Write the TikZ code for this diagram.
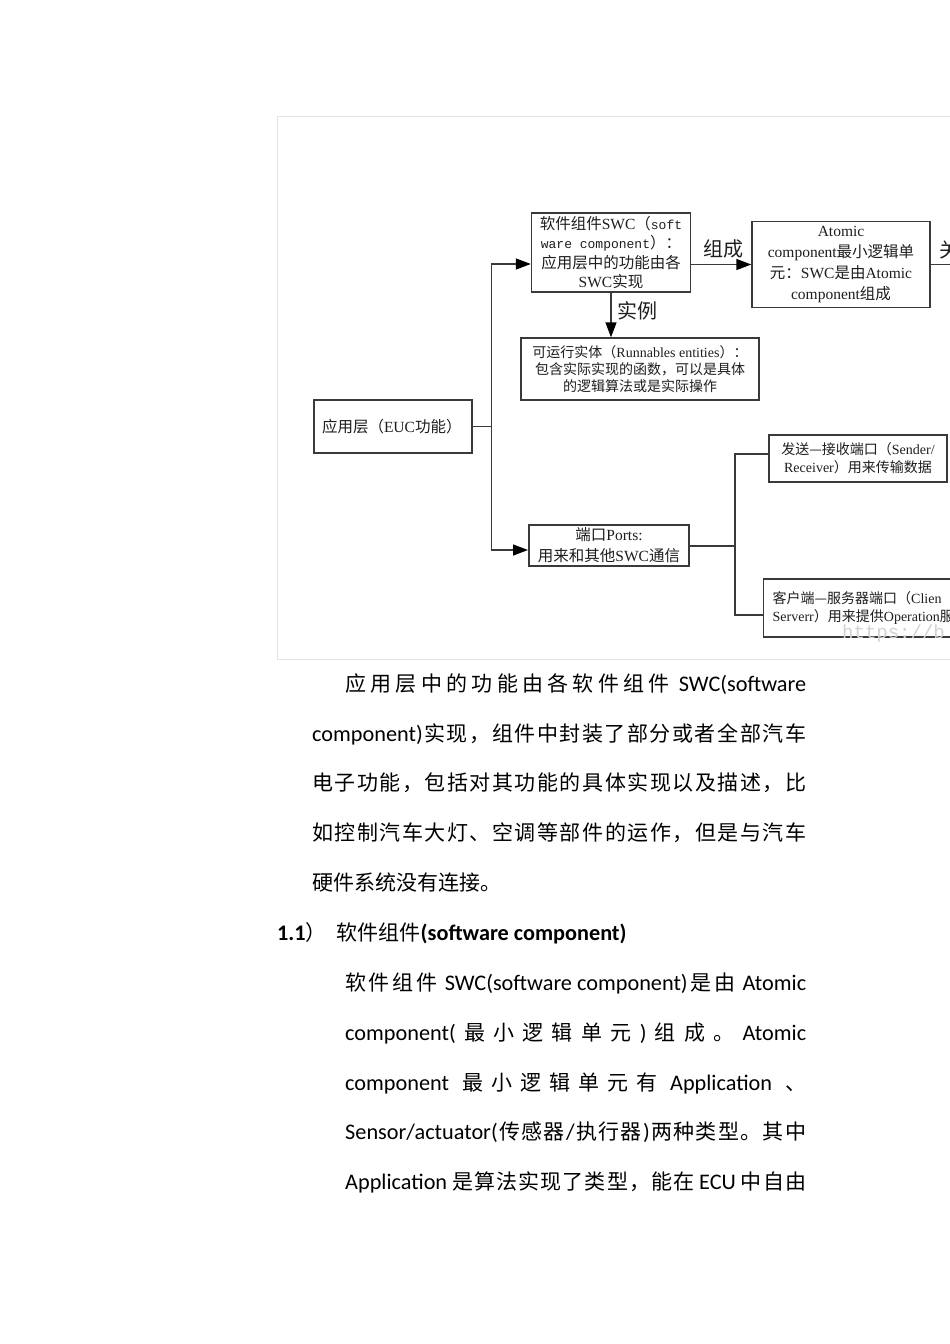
\documentclass[tikz,border=0pt]{standalone}
\usepackage{fontspec}
\usetikzlibrary{arrows.meta,calc}
\newfontfamily\cjkfont{Noto Sans CJK SC}
\newfontfamily\bodylatin[Scale=1.06]{Carlito}
\newfontfamily\diaglatin{Liberation Serif}
\newfontfamily\diagmono{Liberation Mono}
\def\curlatin{\bodylatin}
\def\latinsw{\curlatin}
\def\cjkglue{\hskip0pt plus1fil\relax}
\XeTeXinterchartokenstate=1
\newXeTeXintercharclass\CJKc
\newcount\ccnt
\def\setcls#1#2{\ccnt=#1 \loop\XeTeXcharclass\ccnt=\CJKc \ifnum\ccnt<#2 \advance\ccnt by 1 \repeat}
\setcls{"4E00}{"9FFF}
\setcls{"3000}{"303F}
\setcls{"FF00}{"FFEF}
\XeTeXcharclass"2014=\CJKc
\XeTeXinterchartoks\CJKc\CJKc={\cjkglue}
\XeTeXinterchartoks 0 \CJKc={\cjkglue\cjkfont}
\XeTeXinterchartoks\CJKc 0 ={\latinsw\cjkglue}
\XeTeXinterchartoks 4095 \CJKc={\cjkfont}
\XeTeXinterchartoks 4095 0 ={\latinsw}
\newcommand\dfnt[2]{\let\curlatin\diaglatin\let\cjkglue\relax\cjkfont\fontsize{#1}{#2}\selectfont}
\newcommand\bfnt{\cjkfont\fontsize{21}{25}\selectfont}
\newcommand\mono[1]{{\let\curlatin\diagmono\diagmono\fontsize{13}{19}\selectfont #1}}
\definecolor{dline}{HTML}{3A3A3A}
\definecolor{dtext}{HTML}{1E1E1E}
\tikzset{
  dbox/.style={draw=dline, line width=1.4pt, fill=white, inner sep=0pt, align=center, text=dtext},
  conn/.style={draw=dline, line width=1.4pt},
  arr/.style={conn, -{Triangle[length=15pt,width=11pt,fill=black,color=black]}},
  lbl/.style={inner sep=0pt, text=dtext, font={\dfnt{20}{22}}},
  body/.style={anchor=west, inner sep=0pt, text=black, font=\bfnt},
}
\begin{document}
\begin{tikzpicture}[x=1pt,y=-1pt]
\useasboundingbox (0,0) rectangle (950,1344);
\fill[white] (0,0) rectangle (950,1344);
\clip (0,0) rectangle (950,1344);
% frame of the embedded figure
\draw[gray!22, line width=1pt] (277,116) rectangle (990,659);

% diagram boxes
\node[dbox, minimum width=158pt, minimum height=53pt, text width=142pt, align=left, font={\dfnt{15.5}{19}}] (app) at (393,426.5) {应用层（EUC功能）};
\node[dbox, minimum width=159pt, minimum height=79pt, font={\dfnt{15.5}{19.5}}] (swc) at (611,252.5) {软件组件SWC（\mono{soft}\\\mono{ware component}）：\\应用层中的功能由各\\SWC实现};
\node[dbox, minimum width=238pt, minimum height=62pt, font={\dfnt{14}{17}}] (run) at (640,369) {可运行实体（Runnables entities）：\\包含实际实现的函数，可以是具体\\的逻辑算法或是实际操作};
\node[dbox, minimum width=178pt, minimum height=86pt, font={\dfnt{15.5}{21}}] (atom) at (841,264.5) {Atomic\\component最小逻辑单\\元：SWC是由Atomic\\component组成};
\node[dbox, line width=2pt, minimum width=160pt, minimum height=41pt, font={\dfnt{15.5}{21}}] (ports) at (609,545.5) {端口Ports:\\用来和其他SWC通信};
\node[dbox, minimum width=178pt, minimum height=47pt, font={\dfnt{14}{18}}] (sr) at (858,458.5) {发送—接收端口（Sender/\\Receiver）用来传输数据};
\node[dbox, anchor=west, minimum width=210pt, minimum height=58pt, text width=192pt, align=left, font={\dfnt{14}{18}}] (cs) at (763,608) {客户端—服务器端口（Clien\\Serverr）用来提供Operation服};
\node[anchor=west, inner sep=0pt, text=gray!35, font={\let\curlatin\diagmono\diagmono\fontsize{19}{19}\selectfont}] (wm) at (842,634) {https://b};

% labels
\node[lbl] (lzc) at (723,249) {组成};
\node[lbl] (lsl) at (637,311) {实例};
\node[lbl] (lgx) at (949,250) {关};

% connectors
\coordinate (j1) at ($(app.east)+(19,0)$);
\draw[conn] (app.east) -- (j1);
\draw[arr] (j1) |- ([yshift=-11.5pt]swc.west);
\draw[arr] (j1) |- ([yshift=-4.5pt]ports.west);
\draw[arr] ([yshift=-12pt]swc.east) -- (atom.west);
\draw[arr] (swc.south) -- (swc.south |- run.north);
\coordinate (offr) at (975,264.5);
\draw[conn] (atom.east) -- (offr);
\coordinate (j2) at ($(ports.east)+(45,0)$);
\draw[conn, line width=2pt] (ports.east) -- (j2);
\draw[conn] (j2) |- ([yshift=4.5pt]sr.west);
\draw[conn] (j2) |- ([yshift=-7pt]cs.west);

% body text
\node[body] (p1) at (345,684) {\hbox to 461pt{应用层中的功能由各软件组件\hfil\ SWC(software}};
\node[body] (p2) at (312,734) {\hbox to 494pt{component)实现，组件中封装了部分或者全部汽车}};
\node[body] (p3) at (312,783) {\hbox to 494pt{电子功能，包括对其功能的具体实现以及描述，比}};
\node[body] (p4) at (312,833) {\hbox to 494pt{如控制汽车大灯、空调等部件的运作，但是与汽车}};
\node[body] (p5) at (312,882) {硬件系统没有连接。};
\node[body] (h1) at (277,933) {\textbf{1.1}）\hspace{10pt}软件组件\textbf{(software component)}};
\node[body] (q1) at (345,983) {\hbox to 461pt{软件组件\hfil\ SWC(software component)是由\hfil\ Atomic}};
\node[body] (q2) at (345,1033) {\hbox to 461pt{component(最小逻辑单元)组成。Atomic}};
\node[body] (q3) at (345,1083) {\hbox to 461pt{component\hfil\ 最小逻辑单元有\hfil\ Application\hfil\ 、}};
\node[body] (q4) at (345,1132) {\hbox to 461pt{Sensor/actuator(传感器/执行器)两种类型。其中}};
\node[body] (q5) at (345,1182) {\hbox to 461pt{Application 是算法实现了类型，能在 ECU 中自由}};
\end{tikzpicture}
\end{document}
